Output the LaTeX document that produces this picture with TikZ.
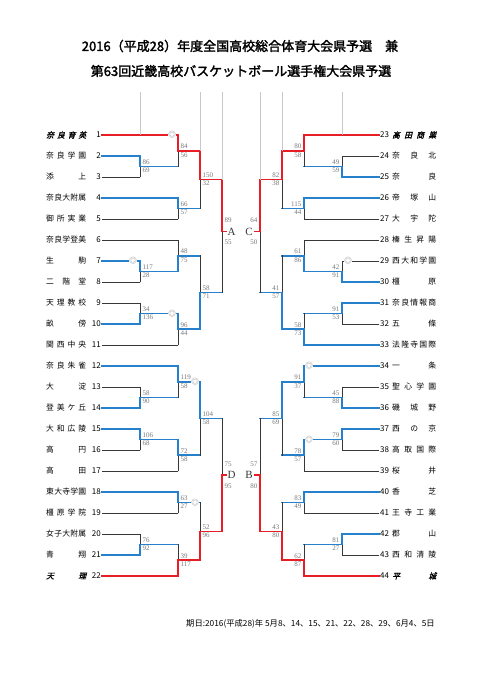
\documentclass[tikz,border=0pt]{standalone}
\usepackage{fontspec}
\usepackage{xcolor}
\usepackage{tikz}
\usetikzlibrary{calc}

\setmainfont{Liberation Serif}
\newfontfamily\jp{Noto Sans CJK JP}
\newfontfamily\jpbold[FakeBold=2]{Noto Sans CJK JP}
\newfontfamily\jpslant[FakeBold=1.5,FakeSlant=0.25]{Noto Sans CJK JP}

\definecolor{winblue}{RGB}{38,128,204}
\definecolor{finred}{RGB}{232,30,38}
\definecolor{losegray}{RGB}{55,55,55}
\definecolor{byegray}{RGB}{200,200,200}
\definecolor{scoregray}{RGB}{120,120,120}

% spread a school name over a fixed width
\newcommand\spreadname[2][40pt]{\makebox[#1][s]{\expandafter\spreadloop#2\relax}}
\def\spreadloop#1#2{#1\ifx\relax#2\else\hfill\expandafter\spreadloop\fi#2}

\tikzset{
  winline/.style={draw=winblue, line width=1.6pt, line cap=rect},
  finline/.style={draw=finred, line width=1.6pt, line cap=rect},
  loseline/.style={draw=losegray, line width=0.9pt, line cap=rect},
  byeline/.style={draw=byegray, line width=0.8pt},
  tnum/.style={font=\jp\fontsize{8}{8}\selectfont, inner sep=1pt},
  tname/.style={font=\jp\fontsize{7.8}{9}\selectfont, inner sep=0pt},
  tfinal/.style={font=\jpslant\fontsize{7.8}{9}\selectfont, inner sep=0pt},
  score/.style={font=\fontsize{7}{7}\selectfont, text=scoregray, inner sep=0.5pt},
  dmark/.style={font=\jp\fontsize{7.5}{7.5}\selectfont, text=scoregray, fill=white, inner sep=0pt},
  blocklbl/.style={font=\fontsize{11}{11}\selectfont, text=losegray, inner sep=1.5pt},
  ttl/.style={font=\jpbold\fontsize{13}{13}\selectfont},
  foot/.style={font=\jp\fontsize{8.3}{8.3}\selectfont, inner sep=0pt},
}

\begin{document}
\begin{tikzpicture}[x=1pt,y=-1pt]
    \fill[white] (0,0) rectangle (482,680);
    \useasboundingbox (0,0) rectangle (482,680);
    % Titles
    \node (title1) [ttl] at (240,46) {2016（平成28）年度全国高校総合体育大会県予選　兼};
    \node (title2) [ttl] at (241,71) {第63回近畿高校バスケットボール選手権大会県予選};
    % Draw the schools
    \foreach \i/\nm/\s in {1/奈良育英/tfinal, 2/奈良学園/tname, 3/添上/tname, 4/奈良大附属/tname,
        5/御所実業/tname, 6/奈良学登美/tname, 7/生駒/tname, 8/二階堂/tname, 9/天理教校/tname,
        10/畝傍/tname, 11/関西中央/tname, 12/奈良朱雀/tname, 13/大淀/tname, 14/登美ケ丘/tname,
        15/大和広陵/tname, 16/高円/tname, 17/高田/tname, 18/東大寺学園/tname, 19/橿原学院/tname,
        20/女子大附属/tname, 21/青翔/tname, 22/天理/tfinal} {
        \pgfmathsetmacro\yy{135+21*(\i-1)}
        \node (n\i) [\s, anchor=west] at (46,\yy) {\spreadname{\nm}};
        \node (t\i) [tnum, anchor=east] at (102,\yy) {\i};
    }
    \foreach \i/\nm/\s in {23/高田商業/tfinal, 24/奈良北/tname, 25/奈良/tname, 26/帝塚山/tname,
        27/大宇陀/tname, 28/榛生昇陽/tname, 29/西大和学園/tname, 30/橿原/tname, 31/奈良情報商/tname,
        32/五條/tname, 33/法隆寺国際/tname, 34/一条/tname, 35/聖心学園/tname, 36/磯城野/tname,
        37/西の京/tname, 38/高取国際/tname, 39/桜井/tname, 40/香芝/tname, 41/王寺工業/tname,
        42/郡山/tname, 43/西和清陵/tname, 44/平城/tfinal} {
        \pgfmathsetmacro\yy{135+21*(\i-23)}
        \node (t\i) [tnum, anchor=west] at (379,\yy) {\i};
        \node (n\i) [\s, anchor=west] at (392,\yy) {\spreadname[44pt]{\nm}};
    }
    % Left half: A and D blocks
    \foreach \n/\x/\ta/\ca/\tb/\cb/\sa/\sb/\f/\g in {
        a1/140/t2/winline/t3/loseline/86/69/.5/1, a2/178/t1/finline/a1/winline/84/56/.5/1,
        a3/178/t4/winline/t5/loseline/66/57/.5/1, a4/200/a2/finline/a3/winline/150/32/.5/1,
        a5/140/t7/winline/t8/loseline/117/28/.5/1, a6/178/t6/loseline/a5/winline/48/75/.5/1,
        a7/140/t9/loseline/t10/winline/34/136/.5/1, a8/178/a7/winline/t11/loseline/96/44/.5/1,
        a9/200/a6/winline/a8/winline/58/71/.5/1, aS/222/a4/finline/a9/winline/89/55/.46/8,
        d1/140/t13/loseline/t14/winline/58/90/.5/1, d2/178/t12/winline/d1/winline/119/58/.5/1,
        d3/140/t15/winline/t16/loseline/106/68/.5/1, d4/178/d3/winline/t17/loseline/72/58/.5/1,
        d5/200/d2/winline/d4/winline/104/58/.5/1, d6/178/t18/winline/t19/loseline/63/27/.5/1,
        d7/140/t20/loseline/t21/winline/76/92/.5/1, d8/178/d7/winline/t22/finline/39/117/.5/1,
        d9/200/d6/winline/d8/finline/52/96/.5/1, dS/222/d5/winline/d9/finline/75/95/.5/8} {
        \coordinate (\n) at ($(\x,0 |- \ta)!\f!(\x,0 |- \tb)$);
        \ifnum\sa>\sb
            \draw[\cb] (\tb) -- (\x,0 |- \tb);
            \draw[loseline] (\x,0 |- \tb) -- (\n);
            \draw[\ca] (\ta) -- (\x,0 |- \ta) -- (\n);
        \else
            \draw[\ca] (\ta) -- (\x,0 |- \ta);
            \draw[loseline] (\x,0 |- \ta) -- (\n);
            \draw[\cb] (\tb) -- (\x,0 |- \tb) -- (\n);
        \fi
        \node (\n-t) [score, anchor=south west, xshift=2pt, yshift=\g pt] at (\n) {\sa};
        \node (\n-b) [score, anchor=north west, xshift=2pt, yshift=-\g pt] at (\n) {\sb};
    }
    % Right half: C and B blocks
    \foreach \n/\x/\ta/\ca/\tb/\cb/\sa/\sb/\f/\g in {
        c1/342/t24/loseline/t25/winline/49/59/.5/1, c2/304/t23/finline/c1/winline/80/58/.5/1,
        c3/304/t26/winline/t27/loseline/115/44/.5/1, c4/282/c2/finline/c3/winline/82/38/.5/1,
        c5/342/t29/loseline/t30/winline/42/91/.5/1, c6/304/t28/loseline/c5/winline/61/86/.5/1,
        c7/342/t31/winline/t32/loseline/91/53/.5/1, c8/304/c7/winline/t33/winline/58/73/.5/1,
        c9/282/c6/winline/c8/winline/41/57/.5/1, cS/260/c4/finline/c9/winline/64/50/.46/8,
        b1/342/t35/loseline/t36/winline/45/88/.5/1, b2/304/t34/winline/b1/winline/91/37/.5/1,
        b3/342/t37/winline/t38/loseline/79/60/.5/1, b4/304/b3/winline/t39/loseline/78/57/.5/1,
        b5/282/b2/winline/b4/winline/85/69/.5/1, b6/304/t40/winline/t41/loseline/83/49/.5/1,
        b7/342/t42/winline/t43/loseline/81/27/.5/1, b8/304/b7/winline/t44/finline/62/87/.5/1,
        b9/282/b6/winline/b8/finline/43/80/.5/1, bS/260/b5/winline/b9/finline/57/80/.5/8} {
        \coordinate (\n) at ($(\x,0 |- \ta)!\f!(\x,0 |- \tb)$);
        \ifnum\sa>\sb
            \draw[\cb] (\tb) -- (\x,0 |- \tb);
            \draw[loseline] (\x,0 |- \tb) -- (\n);
            \draw[\ca] (\ta) -- (\x,0 |- \ta) -- (\n);
        \else
            \draw[\ca] (\ta) -- (\x,0 |- \ta);
            \draw[loseline] (\x,0 |- \ta) -- (\n);
            \draw[\cb] (\tb) -- (\x,0 |- \tb) -- (\n);
        \fi
        \node (\n-t) [score, anchor=south east, xshift=-2pt, yshift=\g pt] at (\n) {\sa};
        \node (\n-b) [score, anchor=north east, xshift=-2pt, yshift=-\g pt] at (\n) {\sb};
    }
    % Seed lines above the top brackets
    \foreach \x/\e in {140/t1, 200/a2, 222/a4, 342/t23, 282/c2, 260/c4}
        \draw[byeline] (\x,92) -- (\x,0 |- \e);
    % Block letters in the middle
    \node (lA) [blocklbl] at (231.5,0 |- aS) {A};
    \node (lC) [blocklbl] at (249,0 |- cS) {C};
    \node (lD) [blocklbl] at (231.5,0 |- dS) {D};
    \node (lB) [blocklbl] at (249,0 |- bS) {B};
    \draw[finline] (aS) -- (lA);
    \draw[finline] (cS) -- (lC);
    \draw[finline] (dS) -- (lD);
    \draw[finline] (bS) -- (lB);
    % Double circle marks
    \foreach \k/\x/\e in {1/172/t1, 2/133/t7, 3/172/a7, 4/195/d2, 5/195/d6, 6/348/t29, 7/309/t34, 8/309/b3}
        \node (o\k) [dmark] at (\x,0 |- \e) {◎};
    % Dates
    \node (dates) [foot, anchor=west] at (186,624) {期日:2016(平成28)年 5月8、14、15、21、22、28、29、6月4、5日};
\end{tikzpicture}
\end{document}
